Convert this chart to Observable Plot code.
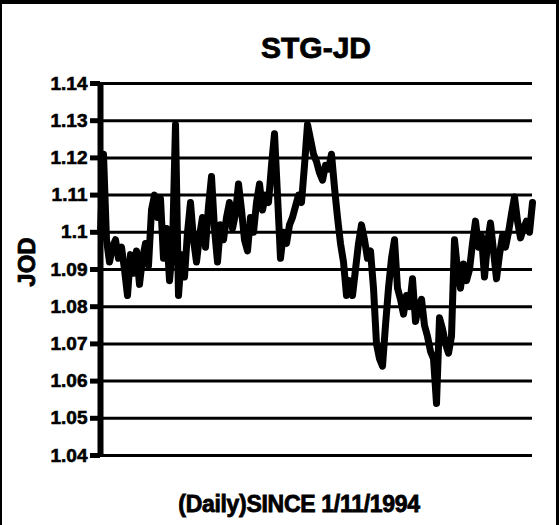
<!DOCTYPE html>
<html><head><meta charset="utf-8">
<script src="https://cdn.jsdelivr.net/npm/d3@7"></script>
<script src="https://cdn.jsdelivr.net/npm/@observablehq/plot@0.6"></script>
<style>
html,body{margin:0;padding:0;background:#fff;}
#wrap{position:relative;width:559px;height:525px;overflow:hidden;}
#frame{position:absolute;left:0;top:0;width:559px;height:525px;box-sizing:border-box;border-top:4px solid #000;border-left:2px solid #000;border-right:3px solid #000;pointer-events:none;}
</style></head><body>
<div id="wrap"><div id="chart"></div><div id="frame"></div></div>
<script>
const title = "STG-JD";
const yLabel = "JOD";
const xLabel = "(Daily)SINCE 1/11/1994";
const yTicks = [1.04, 1.05, 1.06, 1.07, 1.08, 1.09, 1.10, 1.11, 1.12, 1.13, 1.14];
const yTickLabels = ["1.04","1.05","1.06","1.07","1.08","1.09","1.1","1.11","1.12","1.13","1.14"];
const rates = [
  1.100,1.121,1.098,1.092,1.096,1.098,1.093,1.096,1.090,1.083,
  1.094,1.089,1.095,1.086,1.093,1.097,1.091,1.106,1.110,1.104,
  1.109,1.093,1.101,1.087,1.096,1.129,1.083,1.094,1.088,1.100,
  1.108,1.098,1.092,1.099,1.104,1.096,1.107,1.115,1.101,1.092,
  1.102,1.098,1.104,1.108,1.101,1.105,1.113,1.106,1.098,1.095,
  1.104,1.100,1.108,1.113,1.106,1.110,1.108,1.118,1.1265,1.110,
  1.093,1.100,1.097,1.102,1.104,1.107,1.110,1.108,1.118,1.129,
  1.125,1.121,1.119,1.116,1.114,1.118,1.117,1.121,1.112,1.104,
  1.097,1.092,1.083,1.087,1.083,1.090,1.097,1.102,1.098,1.093,
  1.095,1.085,1.070,1.066,1.064,1.075,1.085,1.093,1.098,1.085,
  1.082,1.078,1.083,1.080,1.0875,1.076,1.080,1.082,1.075,1.072,
  1.068,1.066,1.054,1.077,1.074,1.070,1.0675,1.072,1.098,1.090,
  1.085,1.0915,1.087,1.090,1.097,1.103,1.096,1.099,1.088,1.097,
  1.1025,1.095,1.0875,1.094,1.099,1.096,1.100,1.105,1.1095,1.103,
  1.0985,1.101,1.103,1.100,1.108
];
const days = rates.map((_, i) => i);
const data = days.map((d, i) => ({day: d, rate: rates[i]}));
const labelOf = new Map(yTicks.map((t, i) => [t, yTickLabels[i]]));

const plot = Plot.plot({
  width: 559, height: 525,
  marginLeft: 100, marginRight: 27, marginTop: 83, marginBottom: 70,
  style: {fontFamily: "'Liberation Sans', Arial, sans-serif", background: "transparent", color: "#000"},
  x: {domain: [0, days.length - 1], axis: null},
  y: {domain: [1.04, 1.14]},
  marks: [
    Plot.ruleY(yTicks, {stroke: "#000", strokeWidth: 3}),
    Plot.axisY({ticks: yTicks, tickFormat: d => labelOf.get(+d.toFixed(2)), tickSize: 10, tickPadding: 3,
      strokeWidth: 5, fontSize: 19, fontWeight: "bold", label: null, stroke: "#000"}),
    Plot.ruleX([0], {stroke: "#000", strokeWidth: 6}),
    Plot.line(data, {x: "day", y: "rate", stroke: "#000", strokeWidth: 7, strokeLinejoin: "round", strokeLinecap: "round"})
  ]
});
const svg = d3.select(plot);
svg.selectAll("g[aria-label='y-axis tick label'] text").attr("fill", "#000")
  .attr("stroke", "#000").attr("stroke-width", 0.6);
svg.append("text").text(title).attr("x", 316).attr("y", 58).attr("text-anchor", "middle")
  .attr("font-size", 30).attr("font-weight", "bold").attr("fill", "#000").attr("stroke", "#000").attr("stroke-width", 0.8);
svg.append("text").text(yLabel).attr("transform", "translate(35,262) rotate(-90)").attr("text-anchor", "middle")
  .attr("font-size", 24).attr("font-weight", "bold").attr("fill", "#000").attr("stroke", "#000").attr("stroke-width", 0.8);
svg.append("text").text(xLabel).attr("x", 299).attr("y", 512).attr("text-anchor", "middle")
  .attr("font-size", 23).attr("font-weight", "bold").attr("fill", "#000").attr("stroke", "#000").attr("stroke-width", 0.8)
  .attr("letter-spacing", -0.3);
document.getElementById("chart").appendChild(plot);
</script>
</body></html>
